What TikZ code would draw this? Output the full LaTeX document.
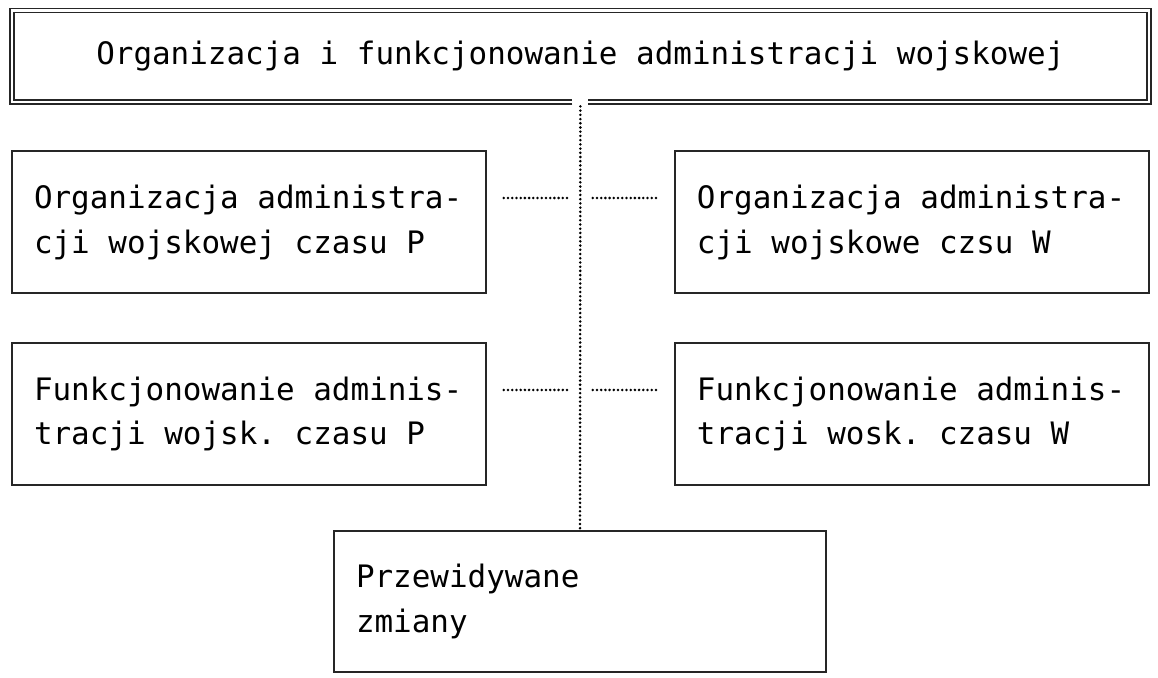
\documentclass[tikz,border=0pt]{standalone}
\usepackage{fontspec}
\newfontfamily\boxfont[WordSpace={1,0,0}, PunctuationSpace=WordSpace]{DejaVu Sans Mono}
\usepackage{tikz}
\usetikzlibrary{positioning, calc}

\begin{document}
\begin{tikzpicture}[
        title/.style={minimum width=28.4cm, minimum height=2.275cm, inner sep=0pt, font=\boxfont\fontsize{22}{32}\selectfont},
        dblframe/.style={draw=black!85, line width=1.2pt, double=white, double distance=1.6pt, line join=miter},
        orgbox/.style={draw=black!85, line width=1.4pt, minimum width=11.85cm, minimum height=3.55cm, text width=10.75cm, inner xsep=0.55cm, align=left, font=\boxfont\fontsize{22}{32}\selectfont,
            execute at begin node={\spaceskip=0pt\xspaceskip=0pt}},
        dotline/.style={black, line width=2pt, line cap=round, dash pattern=on 0pt off 3pt}
    ]
    \useasboundingbox (0,0) rectangle (28.95,-16.95);

    % Title
    \node[title] (main) at (14.51,-1.41) {Organizacja i funkcjonowanie administracji wojskowej};
    \draw[dblframe] ([xshift=-0.2cm]main.south) -- (main.south west) -- (main.north west)
        -- (main.north east) -- (main.south east) -- ([xshift=0.2cm]main.south);

    % Organizacja P / W
    \node[orgbox] (orgP) at (6.225,-5.55) {Organizacja administra-\\cji wojskowej czasu P};
    \node[orgbox, right=4.675cm of orgP] (orgW) {Organizacja administra-\\cji wojskowe czsu W};

    % Funkcjonowanie P / W
    \node[orgbox, below=1.2cm of orgP] (funP) {Funkcjonowanie adminis-\\tracji wojsk. czasu P};
    \node[orgbox, below=1.2cm of orgW] (funW) {Funkcjonowanie adminis-\\tracji wosk. czasu W};

    % Przewidywane zmiany
    \node[orgbox, minimum width=12.3cm, text width=11.2cm, minimum height=3.525cm] (zmiany) at (14.5,-15.04) {Przewidywane\\zmiany};

    % Spine
    \draw[dotline, shorten <=3pt] (main.south) -- (zmiany.north);
    \coordinate (spine1) at ([yshift=0.6cm]orgP.east -| main.south);
    \coordinate (spine2) at ([yshift=0.6cm]funP.east -| main.south);

    % Side links
    \draw[dotline, shorten <=0.42cm, shorten >=0.3cm] ([yshift=0.6cm]orgP.east) -- (spine1);
    \draw[dotline, shorten <=0.45cm, shorten >=0.25cm] ([yshift=0.6cm]orgW.west) -- (spine1);
    \draw[dotline, shorten <=0.42cm, shorten >=0.3cm] ([yshift=0.6cm]funP.east) -- (spine2);
    \draw[dotline, shorten <=0.45cm, shorten >=0.25cm] ([yshift=0.6cm]funW.west) -- (spine2);

\end{tikzpicture}
\end{document}
